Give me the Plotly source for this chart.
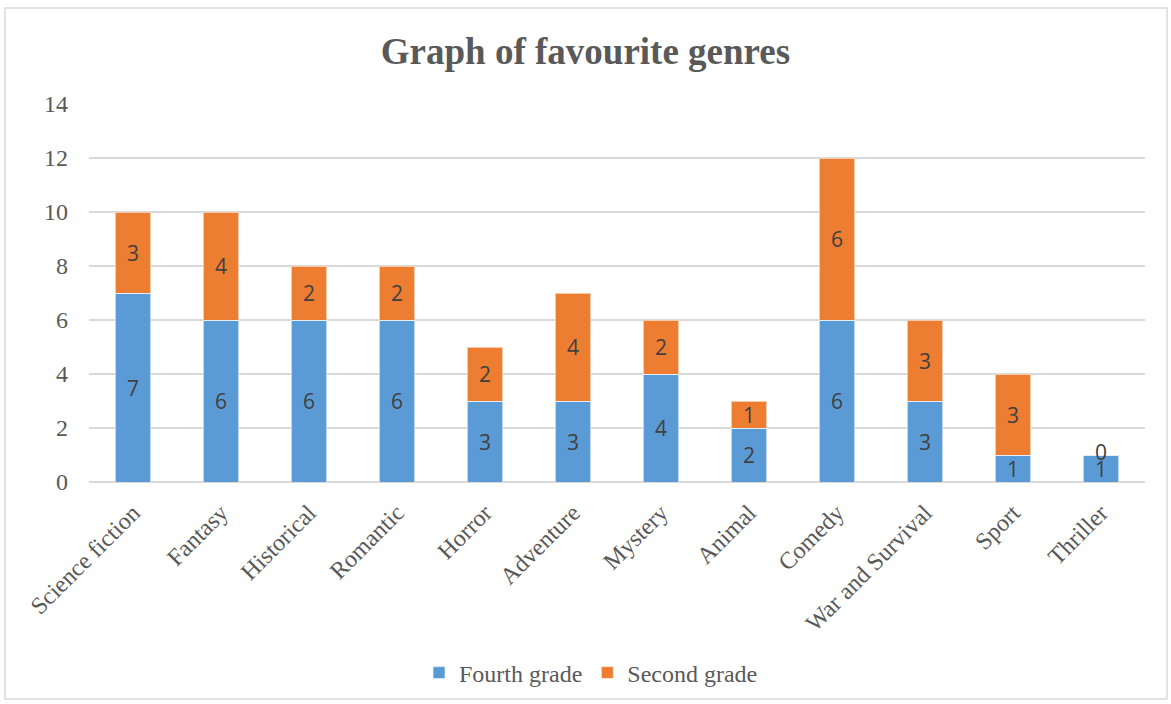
import plotly.graph_objects as go

genres = ["Science fiction", "Fantasy", "Historical", "Romantic", "Horror", "Adventure",
          "Mystery", "Animal", "Comedy", "War and Survival", "Sport", "Thriller"]
fourth_grade = [7, 6, 6, 6, 3, 3, 4, 2, 6, 3, 1, 1]
second_grade = [3, 4, 2, 2, 2, 4, 2, 1, 6, 3, 3, 0]
y_ticks = [0, 2, 4, 6, 8, 10, 12, 14]

W, H = 1171, 704
L, R, T, B = 89, 26, 104, 222
pw, ph = W - L - R, H - T - B

SERIF = "Liberation Serif, Times New Roman, serif"
SANS = "Open Sans, Liberation Sans, sans-serif"
GREY = "#595959"

fig = go.Figure()
for name, vals, color in [("Fourth grade", fourth_grade, "#5B9BD5"),
                          ("Second grade", second_grade, "#ED7D31")]:
    fig.add_trace(go.Bar(
        x=genres, y=vals, name=name,
        marker=dict(color=color, line=dict(color="rgba(255,255,255,0.6)", width=1)),
        text=[str(v) if v else "" for v in vals],
        textposition="inside", insidetextanchor="middle", textangle=0,
        textfont=dict(family=SANS, size=21, color="#404040"),
        constraintext="none",
    ))

# zero-height segments still carry a label at the top of the stack
for g, a, b in zip(genres, fourth_grade, second_grade):
    if b == 0:
        fig.add_annotation(x=g, y=a + b, text="0", showarrow=False,
                           font=dict(family=SANS, size=21, color="#404040"), yshift=3)

# outer chart frame
fig.add_shape(type="rect", xref="paper", yref="paper",
              x0=(5 - L) / pw, x1=(1167 - L) / pw,
              y0=1 - (699 - T) / ph, y1=1 + (T - 8) / ph,
              line=dict(color="#D9D9D9", width=1.5), fillcolor="rgba(0,0,0,0)", layer="below")

fig.update_layout(
    width=W, height=H,
    barmode="stack", bargap=0.6,
    plot_bgcolor="white", paper_bgcolor="white",
    margin=dict(l=L, r=R, t=T, b=B, autoexpand=False),
    title=dict(text="<b>Graph of favourite genres</b>", x=0.5, xanchor="center",
               y=1 - 51 / H, yanchor="middle",
               font=dict(family=SERIF, size=37, color=GREY)),
    font=dict(family=SERIF, color=GREY),
    legend=dict(orientation="h", x=0.5 - 26 / pw, xanchor="center", y=-(673 - T - ph) / ph,
                yanchor="middle", traceorder="normal",
                font=dict(family=SERIF, size=24, color=GREY),
                itemwidth=30, tracegroupgap=0),
    showlegend=True,
)
fig.update_xaxes(tickangle=-45, tickfont=dict(family=SERIF, size=24, color=GREY),
                 ticklabelstandoff=11,
                 showgrid=False, showline=False, zeroline=False)
fig.update_yaxes(range=[0, 14], tickvals=y_ticks, showgrid=True, gridcolor="#D9D9D9",
                 gridwidth=1.5, zeroline=True, zerolinecolor="#D9D9D9", zerolinewidth=1.5,
                 tickfont=dict(family=SERIF, size=24, color=GREY), ticklabelstandoff=20,
                 showline=False)

fig.write_html("out.html")
